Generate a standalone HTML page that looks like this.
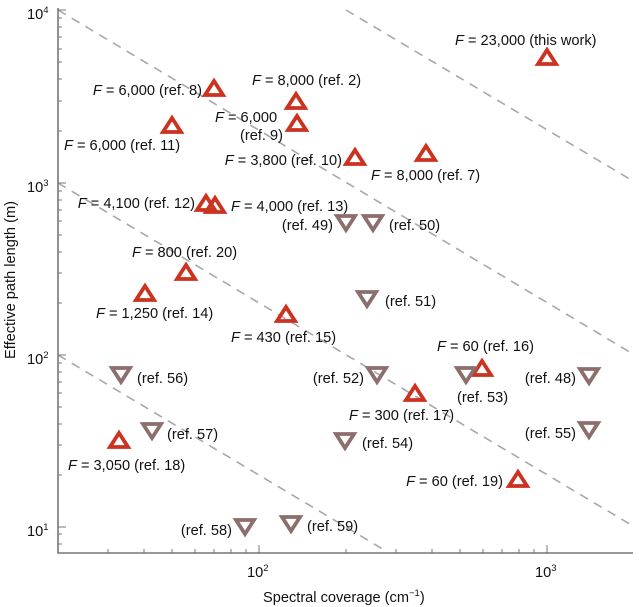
<!DOCTYPE html>
<html><head><meta charset="utf-8"><style>
html,body{margin:0;padding:0;background:#fff}
svg{display:block}
text{font-family:"Liberation Sans",Arial,sans-serif;font-size:14.6px;fill:#111}
.e{text-anchor:end}
.u{fill:none;stroke:#cc3220;stroke-width:3.8;stroke-linejoin:miter}
.d{fill:none;stroke:#8c6f6d;stroke-width:3.8;stroke-linejoin:miter}
.g{stroke:#a8a8a8;stroke-width:1.6;stroke-dasharray:9,7;fill:none}
.ax{stroke:#777;stroke-width:1.6;fill:none}
.tk{stroke:#777;stroke-width:1}
</style></head><body>
<svg width="639" height="607" viewBox="0 0 639 607">
<line class="g" x1="58" y1="10" x2="633" y2="354"/>
<line class="g" x1="58" y1="183" x2="633" y2="526"/>
<line class="g" x1="58" y1="355" x2="386" y2="551"/>
<line class="g" x1="346" y1="10" x2="633" y2="181"/>
<polyline class="ax" points="58,8 58,553 633,553"/>
<g class="tk">
<line x1="58" y1="10" x2="66" y2="10"/><line x1="58" y1="183" x2="66" y2="183"/><line x1="58" y1="355" x2="66" y2="355"/><line x1="58" y1="527" x2="66" y2="527"/>
<line x1="58" y1="131" x2="62" y2="131"/><line x1="58" y1="101" x2="62" y2="101"/><line x1="58" y1="79" x2="62" y2="79"/><line x1="58" y1="62" x2="62" y2="62"/><line x1="58" y1="49" x2="62" y2="49"/><line x1="58" y1="37" x2="62" y2="37"/><line x1="58" y1="27" x2="62" y2="27"/><line x1="58" y1="18" x2="62" y2="18"/>
<line x1="58" y1="303" x2="62" y2="303"/><line x1="58" y1="273" x2="62" y2="273"/><line x1="58" y1="252" x2="62" y2="252"/><line x1="58" y1="235" x2="62" y2="235"/><line x1="58" y1="221" x2="62" y2="221"/><line x1="58" y1="210" x2="62" y2="210"/><line x1="58" y1="200" x2="62" y2="200"/><line x1="58" y1="191" x2="62" y2="191"/>
<line x1="58" y1="475" x2="62" y2="475"/><line x1="58" y1="445" x2="62" y2="445"/><line x1="58" y1="424" x2="62" y2="424"/><line x1="58" y1="407" x2="62" y2="407"/><line x1="58" y1="393" x2="62" y2="393"/><line x1="58" y1="382" x2="62" y2="382"/><line x1="58" y1="372" x2="62" y2="372"/><line x1="58" y1="363" x2="62" y2="363"/>
<line x1="58" y1="544" x2="62" y2="544"/><line x1="58" y1="534" x2="62" y2="534"/>
<line x1="259" y1="553" x2="259" y2="545"/><line x1="547" y1="553" x2="547" y2="545"/>
<line x1="108" y1="553" x2="108" y2="549"/><line x1="144" y1="553" x2="144" y2="549"/><line x1="172" y1="553" x2="172" y2="549"/><line x1="195" y1="553" x2="195" y2="549"/><line x1="214" y1="553" x2="214" y2="549"/><line x1="231" y1="553" x2="231" y2="549"/><line x1="246" y1="553" x2="246" y2="549"/>
<line x1="346" y1="553" x2="346" y2="549"/><line x1="396" y1="553" x2="396" y2="549"/><line x1="432" y1="553" x2="432" y2="549"/><line x1="460" y1="553" x2="460" y2="549"/><line x1="483" y1="553" x2="483" y2="549"/><line x1="502" y1="553" x2="502" y2="549"/><line x1="519" y1="553" x2="519" y2="549"/><line x1="534" y1="553" x2="534" y2="549"/>
</g>
<text x="27" y="19">10<tspan font-size="9.5" dy="-6">4</tspan></text>
<text x="27" y="192">10<tspan font-size="9.5" dy="-6">3</tspan></text>
<text x="27" y="364">10<tspan font-size="9.5" dy="-6">2</tspan></text>
<text x="27" y="536">10<tspan font-size="9.5" dy="-6">1</tspan></text>
<text x="247" y="577">10<tspan font-size="9.5" dy="-6">2</tspan></text>
<text x="535" y="577">10<tspan font-size="9.5" dy="-6">3</tspan></text>
<text x="263" y="602">Spectral coverage (cm<tspan font-size="9.5" dy="-6">−1</tspan><tspan dy="6">)</tspan></text>
<text transform="translate(15,280) rotate(-90)" text-anchor="middle">Effective path length (m)</text>
<g class="u">
<polygon points="538,64 556,64 547,50"/>
<polygon points="205,95 223,95 214,81"/>
<polygon points="287,108 305,108 296,94"/>
<polygon points="163,132 181,132 172,118"/>
<polygon points="288,130 306,130 297,116"/>
<polygon points="346,164 364,164 355,150"/>
<polygon points="417,160 435,160 426,146"/>
<polygon points="197,210 215,210 206,196"/>
<polygon points="206,212 224,212 215,198"/>
<polygon points="177,279 195,279 186,265"/>
<polygon points="136,300 154,300 145,286"/>
<polygon points="277,321 295,321 286,307"/>
<polygon points="473,375 491,375 482,361"/>
<polygon points="406,400 424,400 415,386"/>
<polygon points="110,447 128,447 119,433"/>
<polygon points="509,486 527,486 518,472"/>
</g>
<g class="d">
<polygon points="337,216 355,216 346,230"/>
<polygon points="364,216 382,216 373,230"/>
<polygon points="358,292 376,292 367,306"/>
<polygon points="112,368 130,368 121,382"/>
<polygon points="368,368 386,368 377,382"/>
<polygon points="457,368 475,368 466,382"/>
<polygon points="580,369 598,369 589,383"/>
<polygon points="143,424 161,424 152,438"/>
<polygon points="336,434 354,434 345,448"/>
<polygon points="580,423 598,423 589,437"/>
<polygon points="236,520 254,520 245,534"/>
<polygon points="282,517 300,517 291,531"/>
</g>
<text x="455" y="45"><tspan font-style="italic">F</tspan> = 23,000 (this work)</text>
<text class="e" x="202" y="95"><tspan font-style="italic">F</tspan> = 6,000 (ref. 8)</text>
<text x="252" y="85"><tspan font-style="italic">F</tspan> = 8,000 (ref. 2)</text>
<text x="64" y="150"><tspan font-style="italic">F</tspan> = 6,000 (ref. 11)</text>
<text x="215" y="122"><tspan font-style="italic">F</tspan> = 6,000</text>
<text x="240" y="140">(ref. 9)</text>
<text class="e" x="342" y="165"><tspan font-style="italic">F</tspan> = 3,800 (ref. 10)</text>
<text x="371" y="180"><tspan font-style="italic">F</tspan> = 8,000 (ref. 7)</text>
<text class="e" x="195" y="208"><tspan font-style="italic">F</tspan> = 4,100 (ref. 12)</text>
<text x="231" y="211"><tspan font-style="italic">F</tspan> = 4,000 (ref. 13)</text>
<text class="e" x="333" y="230">(ref. 49)</text>
<text x="389" y="230">(ref. 50)</text>
<text x="132" y="257"><tspan font-style="italic">F</tspan> = 800 (ref. 20)</text>
<text x="385" y="306">(ref. 51)</text>
<text x="96" y="318"><tspan font-style="italic">F</tspan> = 1,250 (ref. 14)</text>
<text x="231" y="342"><tspan font-style="italic">F</tspan> = 430 (ref. 15)</text>
<text x="437" y="351"><tspan font-style="italic">F</tspan> = 60 (ref. 16)</text>
<text x="137" y="383">(ref. 56)</text>
<text class="e" x="364" y="383">(ref. 52)</text>
<text x="457" y="402">(ref. 53)</text>
<text class="e" x="576" y="383">(ref. 48)</text>
<text x="349" y="420"><tspan font-style="italic">F</tspan> = 300 (ref. 17)</text>
<text x="167" y="439">(ref. 57)</text>
<text x="362" y="448">(ref. 54)</text>
<text class="e" x="576" y="438">(ref. 55)</text>
<text x="68" y="470"><tspan font-style="italic">F</tspan> = 3,050 (ref. 18)</text>
<text class="e" x="503" y="486"><tspan font-style="italic">F</tspan> = 60 (ref. 19)</text>
<text class="e" x="232" y="535">(ref. 58)</text>
<text x="307" y="531">(ref. 59)</text>
</svg>
</body></html>
